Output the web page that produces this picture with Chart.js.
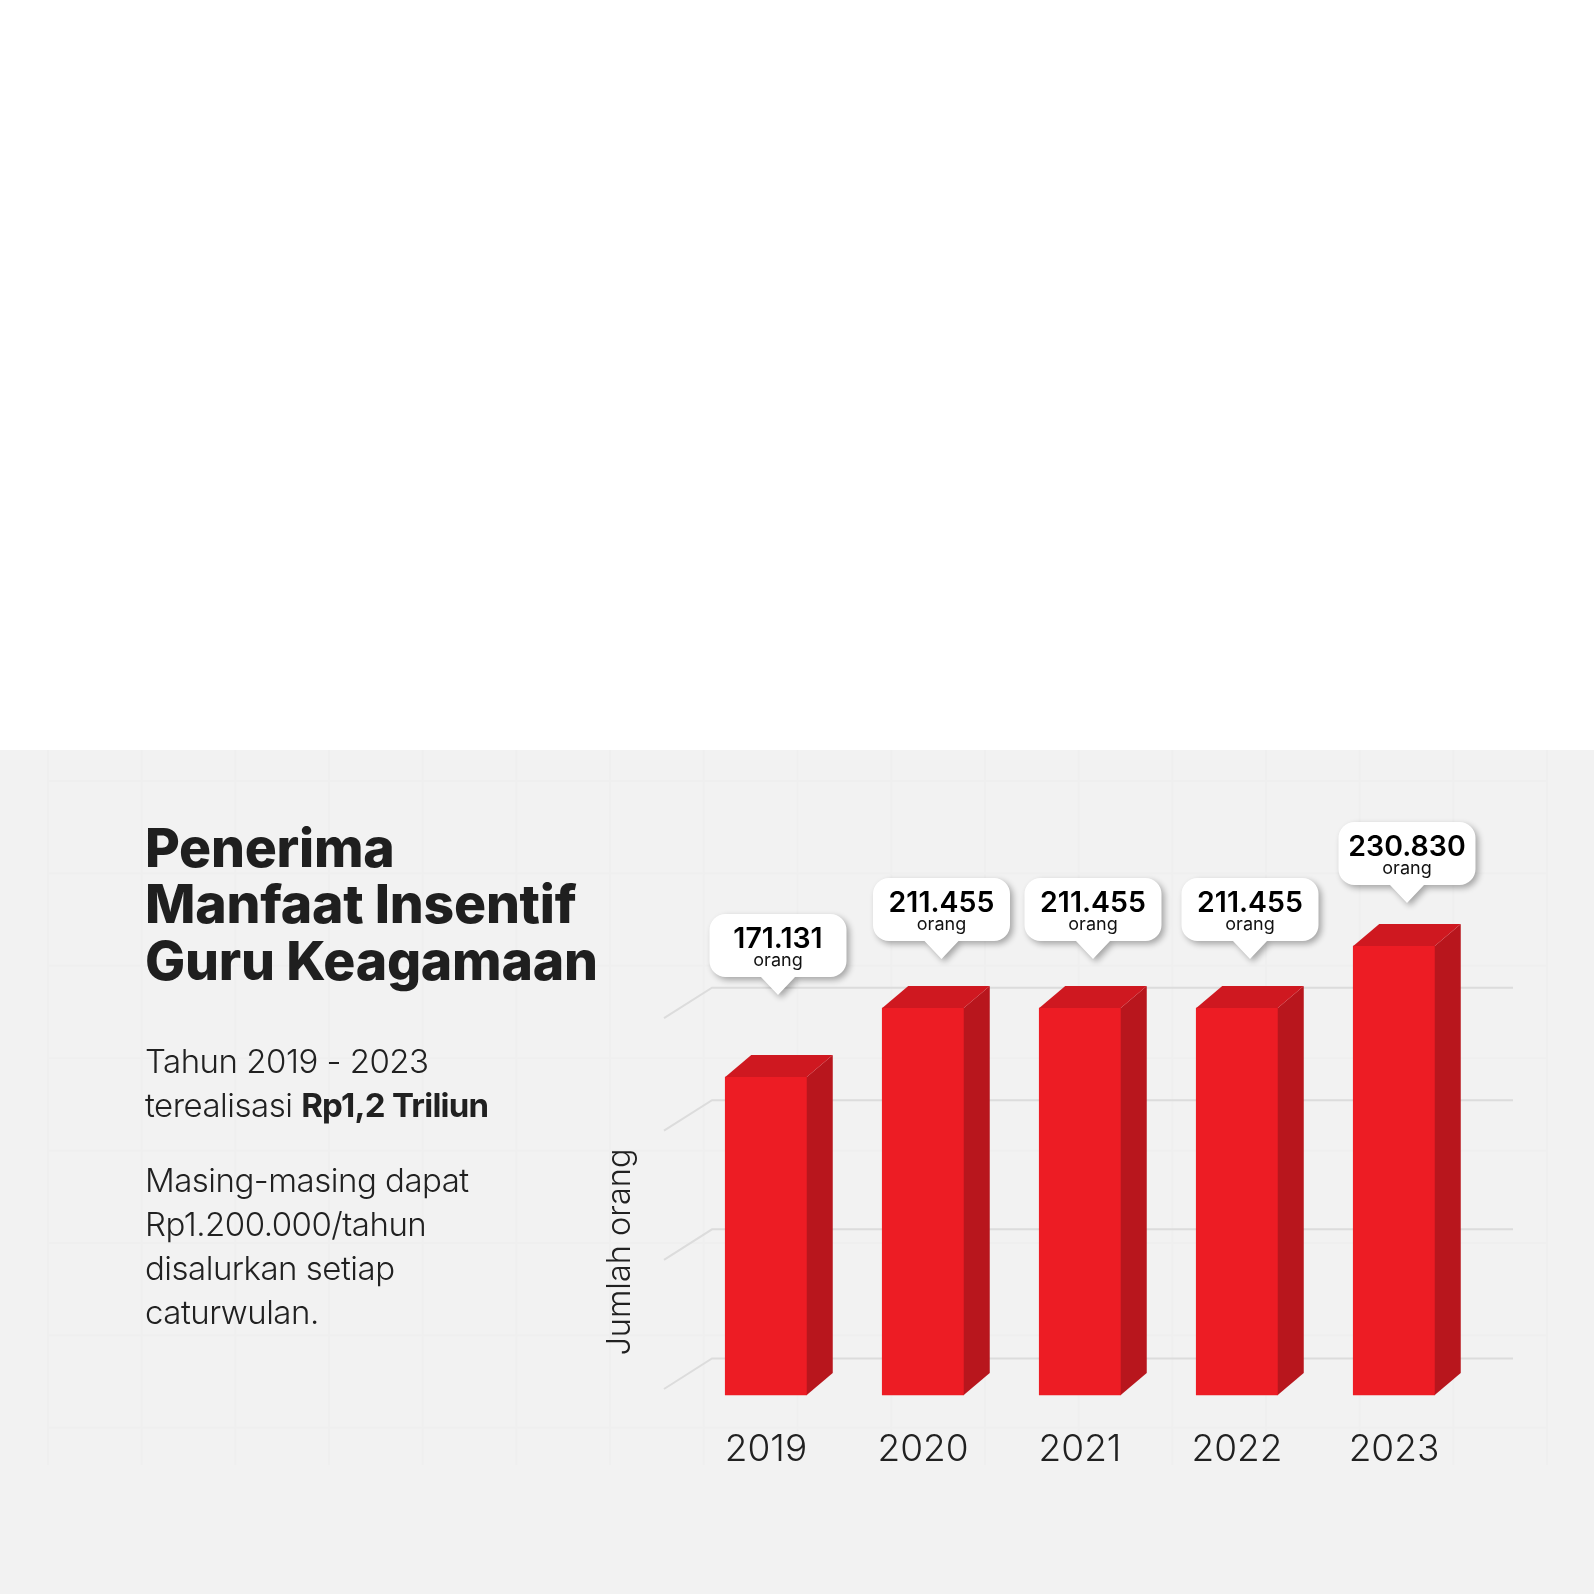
<!DOCTYPE html>
<html lang="id">
<head>
<meta charset="utf-8">
<title>Penerima Manfaat Insentif Guru Keagamaan</title>
<script src="https://cdn.jsdelivr.net/npm/chart.js@4"></script>
<style>
html,body{margin:0;padding:0;background:#fff;}
body{width:1594px;height:1594px;position:relative;overflow:hidden;font-family:Inter,sans-serif;color:#212121;}
#panel{position:absolute;left:0;top:750px;width:1594px;height:844px;background:#f2f2f2;}
#mesh{position:absolute;left:47px;top:750px;width:1501px;height:715px;
 background-image:linear-gradient(to right,#efefef 0,#efefef 1.5px,transparent 1.5px),linear-gradient(to bottom,#efefef 0,#efefef 1.5px,transparent 1.5px);
 background-size:93.7px 92.4px;background-position:0 30px;}
canvas{position:absolute;left:0;top:0;}
.t{position:absolute;left:145px;white-space:nowrap;}
.h{font-weight:800;font-size:53.5px;line-height:56.4px;color:#1f1f1f;top:820px;letter-spacing:-0.25px;}
.p{font-weight:300;font-size:33px;line-height:44px;letter-spacing:-0.5px;}
.p b{font-weight:700;letter-spacing:-0.75px;}
</style>
</head>
<body>
<div id="panel"></div>
<div id="mesh"></div>
<canvas id="c" width="1594" height="1594"></canvas>
<div class="t h">Penerima<br>Manfaat Insentif<br>Guru Keagamaan</div>
<div class="t p" style="top:1039px">Tahun 2019 - 2023<br>terealisasi <b>Rp1,2 Triliun</b></div>
<div class="t p" style="top:1158px">Masing-masing dapat<br>Rp1.200.000/tahun<br>disalurkan setiap<br>caturwulan.</div>
<script>
// Chart data
const years = ['2019', '2020', '2021', '2022', '2023'];
const recipients = [171131, 211455, 211455, 211455, 230830];
const valueLabels = ['171.131', '211.455', '211.455', '211.455', '230.830'];
const unitLabel = 'orang';
const axisTitle = 'Jumlah orang';
const gridValues = [0, 69500, 139000, 202000];

// The source graphic is not drawn to a linear scale: its bars step as below
const scaleStops = [0, 171131, 211455, 230830];
const scaleHeights = [0, 318, 387, 449];

// Styling of the pseudo 3D bars and callouts
const calloutShiftX = [12, 18.5, 13, 13, 13];
const calloutLift = [82, 49, 49, 49, 43];
const depthX = 26, depthY = 22;

class SteppedScale extends Chart.LinearScale {
  getPixelForValue(v) {
    if (v === null || v === undefined) return NaN;
    let i = 1;
    while (i < scaleStops.length - 1 && v > scaleStops[i]) i++;
    const f = (v - scaleStops[i - 1]) / (scaleStops[i] - scaleStops[i - 1]);
    return this.bottom - (scaleHeights[i - 1] + f * (scaleHeights[i] - scaleHeights[i - 1]));
  }
}
SteppedScale.id = 'stepped';
SteppedScale.defaults = Chart.LinearScale.defaults;
Chart.register(SteppedScale);

const wallGrid = {
  id: 'wallGrid',
  beforeDatasetsDraw(chart) {
    const { ctx, scales: { y } } = chart;
    ctx.save();
    ctx.strokeStyle = '#dcdcdc';
    ctx.lineWidth = 2;
    y.ticks.forEach(t => {
      const py = y.getPixelForValue(t.value) - 6;
      ctx.beginPath();
      ctx.moveTo(664, py);
      ctx.lineTo(712, py - 30.5);
      ctx.lineTo(1513, py - 30.5);
      ctx.stroke();
    });
    ctx.restore();
  }
};

const bar3d = {
  id: 'bar3d',
  afterDatasetsDraw(chart) {
    const ctx = chart.ctx;
    chart.getDatasetMeta(0).data.forEach((el, i) => {
      const { x, y, base, width } = el.getProps(['x', 'y', 'base', 'width'], true);
      const l = x - width / 2, r = x + width / 2;
      ctx.save();
      ctx.fillStyle = '#b8161d';
      ctx.beginPath();
      ctx.moveTo(r, y); ctx.lineTo(r + depthX, y - depthY);
      ctx.lineTo(r + depthX, base - depthY); ctx.lineTo(r, base);
      ctx.closePath(); ctx.fill();
      ctx.fillStyle = '#cf1820';
      ctx.beginPath();
      ctx.moveTo(l, y); ctx.lineTo(l + depthX, y - depthY);
      ctx.lineTo(r + depthX, y - depthY); ctx.lineTo(r, y);
      ctx.closePath(); ctx.fill();
      // callout
      const cx = x + calloutShiftX[i], tip = y - calloutLift[i];
      const bw = 137, bh = 63, rad = 16, bot = tip - 18, top = bot - bh, a = cx - bw / 2, b = cx + bw / 2;
      ctx.shadowColor = 'rgba(0,0,0,0.32)';
      ctx.shadowBlur = 6;
      ctx.shadowOffsetX = 3;
      ctx.shadowOffsetY = 3;
      ctx.fillStyle = '#fff';
      ctx.beginPath();
      ctx.moveTo(a + rad, top);
      ctx.arcTo(b, top, b, bot, rad);
      ctx.arcTo(b, bot, a, bot, rad);
      ctx.lineTo(cx + 17, bot); ctx.lineTo(cx, tip); ctx.lineTo(cx - 17, bot);
      ctx.arcTo(a, bot, a, top, rad);
      ctx.arcTo(a, top, b, top, rad);
      ctx.closePath(); ctx.fill();
      ctx.shadowColor = 'transparent';
      ctx.fillStyle = '#000';
      ctx.textAlign = 'center';
      ctx.textBaseline = 'alphabetic';
      ctx.font = '600 28.5px Inter';
      ctx.fillText(valueLabels[i], cx, tip - 47);
      ctx.font = '400 18px Inter';
      ctx.fillStyle = '#111';
      ctx.fillText(unitLabel, cx, tip - 29);
      ctx.restore();
    });
  }
};

new Chart(document.getElementById('c'), {
  type: 'bar',
  data: {
    labels: years,
    datasets: [{
      label: axisTitle,
      data: recipients,
      backgroundColor: '#ed1c24',
      borderWidth: 0,
      barThickness: 81.5,
      clip: false
    }]
  },
  options: {
    responsive: false,
    devicePixelRatio: 1,
    animation: false,
    layout: { padding: { left: 601, right: 121.5, top: 1109, bottom: 96.6 } },
    plugins: { legend: { display: false }, title: { display: false }, tooltip: { enabled: false } },
    scales: {
      x: {
        grid: { display: false },
        border: { display: false },
        ticks: { color: '#212121', padding: 25, maxRotation: 0, font: { family: 'Inter', size: 37, weight: '300' } }
      },
      y: {
        type: 'stepped',
        min: 0,
        max: 230830,
        grid: { display: false },
        border: { display: false },
        ticks: { display: false },
        afterBuildTicks(scale) { scale.ticks = gridValues.map(v => ({ value: v })); },
        title: {
          display: true,
          text: axisTitle,
          color: '#212121',
          padding: { top: 0, bottom: 39.5 },
          font: { family: 'Inter', size: 32.5, weight: '300' }
        }
      }
    }
  },
  plugins: [wallGrid, bar3d]
});
</script>
</body>
</html>
